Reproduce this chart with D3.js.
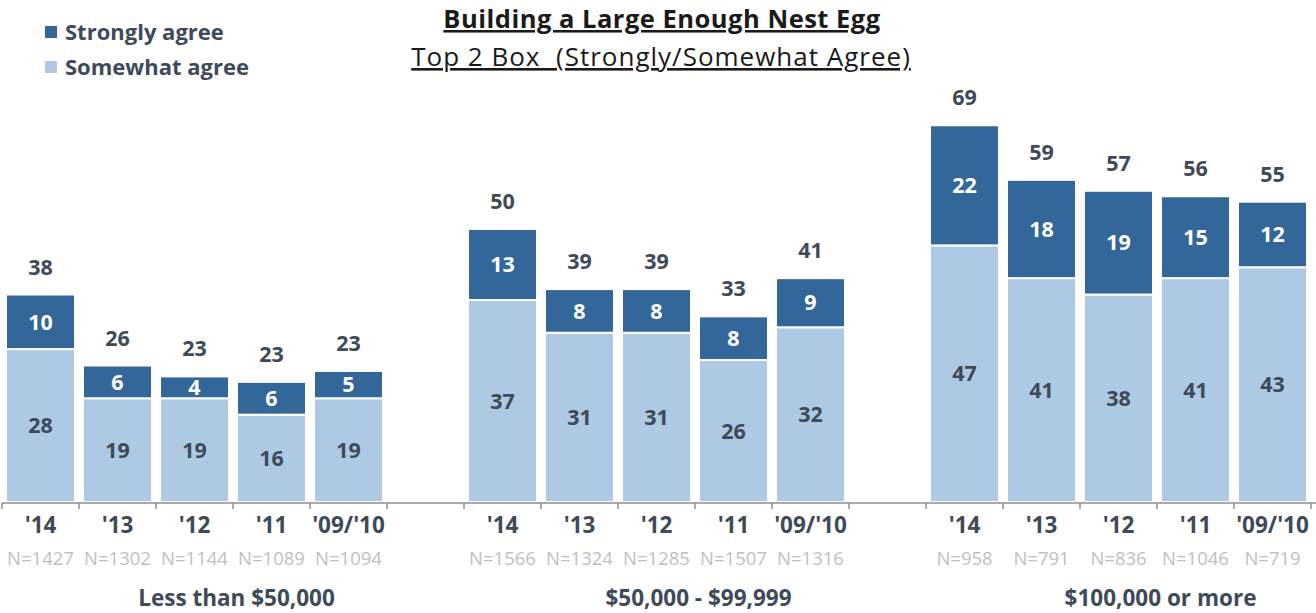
<!DOCTYPE html>
<html><head><meta charset="utf-8">
<script src="https://cdn.jsdelivr.net/npm/d3@7"></script>
<style>body{margin:0;background:#fff}svg{display:block}</style>
</head><body>
<svg id="c" width="1316" height="613"></svg>
<script>
const groups = ["Less than $50,000", "$50,000 - $99,999", "$100,000 or more"];
const years = ["'14", "'13", "'12", "'11", "'09/'10"];
const somewhat = [[28,19,19,16,19],[37,31,31,26,32],[47,41,38,41,43]];
const strongly = [[10,6,4,6,5],[13,8,8,8,9],[22,18,19,15,12]];
const totals = [[38,26,23,23,23],[50,39,39,33,41],[69,59,57,56,55]];
const ns = [["N=1427","N=1302","N=1144","N=1089","N=1094"],
            ["N=1566","N=1324","N=1285","N=1507","N=1316"],
            ["N=958","N=791","N=836","N=1046","N=719"]];
const seriesNames = ["Strongly agree","Somewhat agree"];

const DARK="#336699", LIGHT="#ADC9E4", TXT="#3E4A58", NGRAY="#BFBFBF";
const FONT="'Open Sans', sans-serif";
const svg = d3.select("#c");

const slots = [];
groups.forEach((g,gi)=>{
  years.forEach((y,yi)=>slots.push(`${gi}-${yi}`));
  if(gi<groups.length-1) slots.push(`gap${gi}`);
});
const x = d3.scaleBand().domain(slots).range([2,1311]).paddingInner(0.104).paddingOuter(0.052);
const step = x.step(), gap = step - x.bandwidth();
const y = d3.scaleLinear().domain([0,70]).range([502,119.8]);

const data = [];
groups.forEach((g,gi)=>years.forEach((yr,yi)=>{
  data.push({key:`${gi}-${yi}`, gi, yi, yr, s:somewhat[gi][yi], st:strongly[gi][yi], t:totals[gi][yi], n:ns[gi][yi]});
}));

const bars = svg.append("g");
bars.selectAll("rect.sw").data(data).join("rect").attr("class","sw")
  .attr("x",d=>x(d.key)).attr("width",x.bandwidth())
  .attr("y",d=>y(d.s)).attr("height",d=>y(0)-y(d.s))
  .attr("fill",LIGHT).attr("stroke","#fff").attr("stroke-width",2);
bars.selectAll("rect.st").data(data).join("rect").attr("class","st")
  .attr("x",d=>x(d.key)).attr("width",x.bandwidth())
  .attr("y",d=>y(d.s+d.st)).attr("height",d=>y(d.s)-y(d.s+d.st))
  .attr("fill",DARK).attr("stroke","#fff").attr("stroke-width",2);

svg.append("line").attr("x1",2).attr("x2",1316).attr("y1",y(0)+1).attr("y2",y(0)+1)
  .attr("stroke","#8E8E8E").attr("stroke-width",1.5);
groups.forEach((g,gi)=>{
  const b = d3.range(6).map(i=> i<5 ? x(`${gi}-${i}`)-gap/2 : x(`${gi}-4`)+x.bandwidth()+gap/2);
  svg.selectAll(null).data(b).join("line")
    .attr("x1",d=>d).attr("x2",d=>d).attr("y1",y(0)+1).attr("y2",y(0)+7)
    .attr("stroke","#8E8E8E").attr("stroke-width",1.5);
});

const cx = d=>x(d.key)+x.bandwidth()/2;
const NUM = 21.5;
svg.selectAll("text.swl").data(data).join("text")
  .attr("x",cx).attr("y",d=>(y(0)+y(d.s))/2).attr("dy","0.36em")
  .attr("text-anchor","middle").attr("font-family",FONT).attr("font-weight","bold")
  .attr("font-size",NUM).attr("fill",TXT).text(d=>d.s);
svg.selectAll("text.stl").data(data).join("text")
  .attr("x",cx).attr("y",d=>(y(d.s)+y(d.s+d.st))/2).attr("dy","0.36em")
  .attr("text-anchor","middle").attr("font-family",FONT).attr("font-weight","bold")
  .attr("font-size",NUM).attr("fill","#fff").text(d=>d.st);
svg.selectAll("text.tot").data(data).join("text")
  .attr("x",cx).attr("y",d=>y(d.s+d.st)-20)
  .attr("text-anchor","middle").attr("font-family",FONT).attr("font-weight","bold")
  .attr("font-size",NUM).attr("fill",TXT).text(d=>d.t);
svg.selectAll("text.yr").data(data).join("text")
  .attr("x",cx).attr("y",533)
  .attr("text-anchor","middle").attr("font-family",FONT).attr("font-weight","bold")
  .attr("font-size",22.5).attr("fill",TXT).text(d=>d.yr);
svg.selectAll("text.n").data(data).join("text")
  .attr("x",cx).attr("y",565)
  .attr("text-anchor","middle").attr("font-family",FONT)
  .attr("font-size",18.5).attr("fill",NGRAY).text(d=>d.n);
svg.selectAll("text.grp").data(groups).join("text")
  .attr("x",(g,gi)=>(x(`${gi}-0`)+x(`${gi}-4`)+x.bandwidth())/2+42).attr("y",606)
  .attr("text-anchor","middle").attr("font-family",FONT).attr("font-weight","bold")
  .attr("font-size",22.5).attr("fill",TXT).text(d=>d);

svg.append("text").attr("x",662).attr("y",28).attr("text-anchor","middle")
  .attr("font-family",FONT).attr("font-weight","bold").attr("font-size",25.5).attr("letter-spacing",0.5)
  .attr("fill","#1a1a1a").attr("text-decoration","underline").text("Building a Large Enough Nest Egg");
svg.append("text").attr("x",661).attr("y",66).attr("text-anchor","middle")
  .attr("font-family",FONT).attr("font-size",26).attr("letter-spacing",1)
  .attr("fill","#1a1a1a").attr("text-decoration","underline").text("Top 2 Box\u00a0 (Strongly/Somewhat Agree)");

const lg = svg.append("g");
lg.selectAll("rect").data(seriesNames).join("rect")
  .attr("x",45).attr("y",(d,i)=>26+i*35).attr("width",12).attr("height",12)
  .attr("fill",(d,i)=>i===0?DARK:LIGHT);
lg.selectAll("text").data(seriesNames).join("text")
  .attr("x",65).attr("y",(d,i)=>32+i*35).attr("dy","0.36em")
  .attr("font-family",FONT).attr("font-weight","bold").attr("font-size",22)
  .attr("fill",TXT).text(d=>d);
</script>
</body></html>
